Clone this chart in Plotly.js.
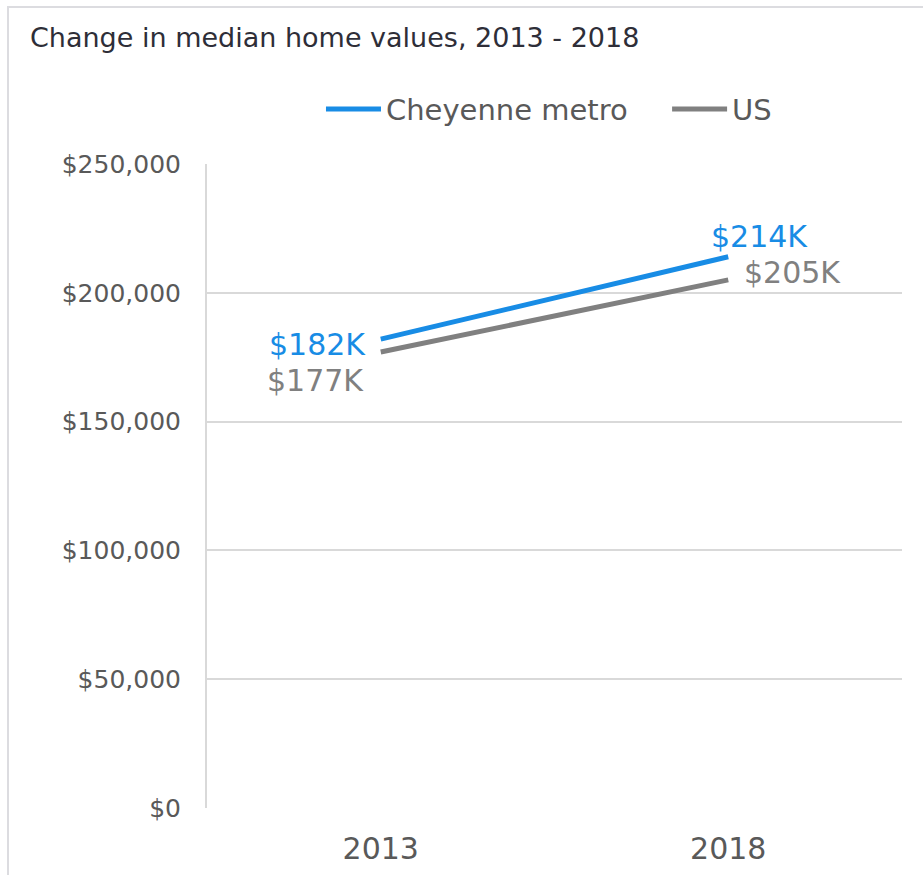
<!DOCTYPE html>
<html>
<head>
<meta charset="utf-8">
<script src="https://cdn.plot.ly/plotly-3.0.1.min.js"></script>
<style>
  html, body { margin: 0; padding: 0; background: #ffffff; }
  #wrap { position: relative; width: 923px; height: 875px; overflow: hidden; }
  #chart { position: absolute; left: 0; top: 0; width: 923px; height: 875px; }
  #frame { position: absolute; left: 7px; top: 6px; width: 930px; height: 900px;
           border-left: 2px solid #dcdce0; border-top: 2px solid #dcdce0; pointer-events: none; }
</style>
</head>
<body>
<div id="wrap">
  <div id="chart"></div>
  <div id="frame"></div>
</div>
<script>
// ---- data ----
const years = ["2013", "2018"];
const cheyenne = [182000, 214000];
const us = [177000, 205000];
const seriesNames = ["Cheyenne metro", "US"];
const yTicks = [0, 50000, 100000, 150000, 200000, 250000];
const gridTicks = [50000, 100000, 150000, 200000, 250000];

const DOLLAR = String.fromCharCode(36);
const BLUE = "#188CE5";
const GRAY = "#808080";
const TXT = "#595959";
const FONT = "DejaVu Sans, sans-serif";

function kLabel(v) { return DOLLAR + Math.round(v / 1000) + "K"; }
function money(v) { return DOLLAR + v.toLocaleString("en-US"); }

const traces = [
  { x: years, y: cheyenne, name: seriesNames[0], type: "scatter", mode: "lines",
    line: { color: BLUE, width: 5 }, hoverinfo: "skip", legend: "legend" },
  { x: years, y: us, name: seriesNames[1], type: "scatter", mode: "lines",
    line: { color: GRAY, width: 5 }, hoverinfo: "skip", legend: "legend2" }
];

// category axis: annotations use the category index (names look numeric)
function ann(i, series, color, xanchor, xshift, yshift) {
  return { x: i, y: series[i], xref: "x", yref: "y", text: kLabel(series[i]), showarrow: false,
    xanchor: xanchor, yanchor: "middle", xshift: xshift, yshift: yshift, borderpad: 0,
    font: { family: FONT, size: 30, color: color } };
}
const annotations = [
  ann(0, cheyenne, BLUE, "right", -14, -5),
  ann(0, us, GRAY, "right", -16, -28),
  ann(1, cheyenne, BLUE, "center", 31, 20),
  ann(1, us, GRAY, "left", 15, 7)
];

const legendBase = { orientation: "h", xanchor: "left", y: 1.085, yanchor: "middle",
  font: { family: FONT, size: 29, color: TXT }, itemwidth: 55, bgcolor: "rgba(0,0,0,0)" };

const layout = {
  width: 923, height: 875,
  margin: { l: 207, r: 21, t: 164, b: 67, pad: 0 },
  paper_bgcolor: "#ffffff", plot_bgcolor: "#ffffff",
  font: { family: FONT, color: TXT },
  title: { text: "Change in median home values, 2013 - 2018",
    xref: "container", yref: "container", x: 30 / 923, xanchor: "left",
    y: 1 - 38 / 875, yanchor: "middle",
    font: { family: FONT, size: 27, color: "#2E2E38" } },
  showlegend: true,
  legend: Object.assign({ x: 0.164 }, legendBase),
  legend2: Object.assign({ x: 0.662 }, legendBase),
  xaxis: { type: "category", range: [-0.5, 1.5], showgrid: false, zeroline: false,
    showline: false, ticks: "", ticklabelstandoff: 20,
    tickfont: { family: FONT, size: 30, color: TXT }, fixedrange: true },
  yaxis: { range: [0, 250000], tickvals: yTicks, ticktext: yTicks.map(money),
    showgrid: false, zeroline: false, showline: true, linecolor: "#d9d9d9", linewidth: 2,
    ticks: "", ticklabelstandoff: 19,
    tickfont: { family: FONT, size: 25, color: TXT }, fixedrange: true },
  yaxis2: { range: [0, 250000], overlaying: "y", anchor: "x", side: "left",
    tickvals: gridTicks, showticklabels: false, showgrid: true, gridcolor: "#d9d9d9",
    gridwidth: 2, zeroline: false, showline: false, ticks: "", fixedrange: true },
  annotations: annotations
};

// invisible helper trace that activates the y2 grid axis
const gridTrace = { x: years, y: cheyenne, yaxis: "y2", type: "scatter", mode: "lines",
  line: { width: 0, color: "rgba(0,0,0,0)" }, showlegend: false, hoverinfo: "skip" };

Plotly.newPlot("chart", [gridTrace, traces[0], traces[1]], layout, { displayModeBar: false, staticPlot: true });
</script>
</body>
</html>
